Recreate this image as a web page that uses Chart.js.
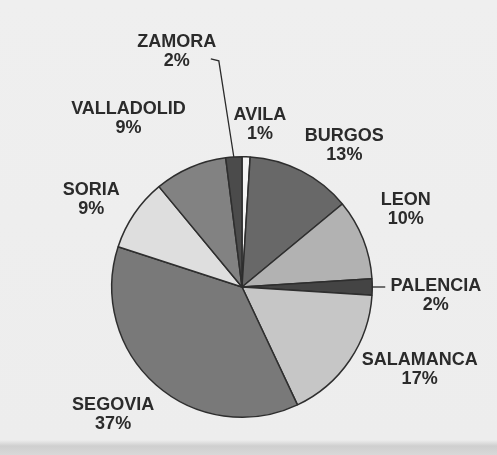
<!DOCTYPE html>
<html>
<head>
<meta charset="utf-8">
<script src="https://cdn.jsdelivr.net/npm/chart.js@4"></script>
<style>
  html, body { margin: 0; padding: 0; }
  body {
    width: 497px; height: 455px; overflow: hidden;
    background: linear-gradient(to bottom, #efefef 0, #ededed 440px, #cfcfcf 446px, #d8d8d8 455px);
  }
  #wrap { position: relative; width: 497px; height: 455px; }
</style>
</head>
<body>
<div id="wrap"><canvas id="pieChart" width="497" height="455"></canvas></div>
<script>
// provincias, en orden horario desde arriba
const provinces = ['AVILA', 'BURGOS', 'LEON', 'PALENCIA', 'SALAMANCA', 'SEGOVIA', 'SORIA', 'VALLADOLID', 'ZAMORA'];
const shares = [1, 13, 10, 2, 17, 37, 9, 9, 2];
const shareLabels = ['1%', '13%', '10%', '2%', '17%', '37%', '9%', '9%', '2%'];

const sliceColors = ['#f4f4f4', '#686868', '#b2b2b2', '#444444', '#c6c6c6', '#797979', '#dedede', '#828282', '#4b4b4b'];

// colocación de las etiquetas: [giro respecto al centro del sector (grados), distancia al centro (px)]
const labelPlacement = {
  AVILA: [4.5, 163],
  BURGOS: [8.8, 175],
  LEON: [-3.6, 181],
  PALENCIA: [2.4, 194],
  SALAMANCA: [-9.2, 196],
  SEGOVIA: [4, 181],
  SORIA: [-4.2, 174],
  VALLADOLID: [-10.6, 203],
  ZAMORA: [-11.9, 244]
};

const pieLabels = {
  id: 'pieLabels',
  afterDatasetsDraw(chart) {
    const ctx = chart.ctx;
    const arcs = chart.getDatasetMeta(0).data;
    ctx.save();
    ctx.font = 'bold 18px "Liberation Sans", Arial, sans-serif';
    ctx.fillStyle = '#2b2b2b';
    ctx.textAlign = 'center';
    ctx.textBaseline = 'middle';
    ctx.strokeStyle = '#2b2b2b';
    ctx.lineWidth = 1.3;

    arcs.forEach((arc, i) => {
      const { x, y, startAngle, endAngle, outerRadius } = arc.getProps(['x', 'y', 'startAngle', 'endAngle', 'outerRadius'], true);
      const mid = (startAngle + endAngle) / 2;
      const [dA, dist] = labelPlacement[provinces[i]];
      const a = mid + dA * Math.PI / 180;
      const lx = x + Math.cos(a) * dist;
      const ly = y + Math.sin(a) * dist;
      ctx.fillText(provinces[i], lx, ly - 9.5);
      ctx.fillText(shareLabels[i], lx, ly + 9.5);

      const ex = x + Math.cos(mid) * outerRadius;
      const ey = y + Math.sin(mid) * outerRadius;
      if (provinces[i] === 'ZAMORA') {
        ctx.beginPath();
        ctx.moveTo(ex, ey);
        ctx.lineTo(ex - 15, ly + 9);
        ctx.lineTo(ex - 23, ly + 7);
        ctx.stroke();
      }
      if (provinces[i] === 'PALENCIA') {
        ctx.beginPath();
        ctx.moveTo(ex, ey);
        ctx.lineTo(ex + 13, ey);
        ctx.stroke();
      }
    });
    ctx.restore();
  }
};

new Chart(document.getElementById('pieChart'), {
  type: 'pie',
  data: {
    labels: provinces,
    datasets: [{
      data: shares,
      backgroundColor: sliceColors,
      borderColor: '#2e2e2e',
      borderWidth: 1.5
    }]
  },
  options: {
    responsive: false,
    animation: false,
    rotation: 0,
    layout: { padding: { left: 111, right: 124, top: 156, bottom: 37 } },
    plugins: {
      legend: { display: false },
      tooltip: { enabled: false }
    }
  },
  plugins: [pieLabels]
});
</script>
</body>
</html>
